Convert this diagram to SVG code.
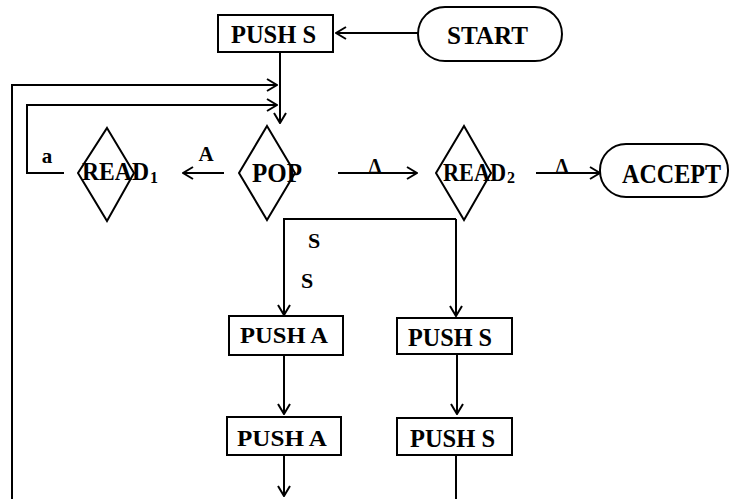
<svg xmlns="http://www.w3.org/2000/svg" width="731" height="499" viewBox="0 0 731 499">
<style>
.sh{fill:#fff;stroke:#000;stroke-width:2}
.dm{fill:none;stroke:#000;stroke-width:2}
.t{font-family:"Liberation Serif","Times New Roman",serif;font-weight:bold;fill:#000}
.c{fill:none;stroke:#000;stroke-width:2}
</style>
<defs>
<marker id="ah" viewBox="0 0 12 14" refX="11" refY="7" markerWidth="12" markerHeight="14" markerUnits="userSpaceOnUse" orient="auto">
<path d="M1,1 L11,7 L1,13" fill="none" stroke="#000" stroke-width="2"/>
</marker>
</defs>
<rect width="731" height="499" fill="#fff"/>
<g id="connectors">
<path class="c" d="M418,33 L336,33" marker-end="url(#ah)"/>
<path class="c" d="M280,52 L280,123" marker-end="url(#ah)"/>
<path class="c" d="M12,499 L12,85 L277,85" marker-end="url(#ah)"/>
<path class="c" d="M64,173 L27,173 L27,105 L277,105" marker-end="url(#ah)"/>
<path class="c" d="M224,173 L183,173" marker-end="url(#ah)"/>
<path class="c" d="M338,173 L417,173" marker-end="url(#ah)"/>
<path class="c" d="M536,173 L600,173" marker-end="url(#ah)"/>
<path class="c" d="M456,219 L284,219 L284,315" marker-end="url(#ah)"/>
<path class="c" d="M456,219 L456,316" marker-end="url(#ah)"/>
<path class="c" d="M284,355 L284,414" marker-end="url(#ah)"/>
<path class="c" d="M284,455 L284,496" marker-end="url(#ah)"/>
<path class="c" d="M457,354 L457,414" marker-end="url(#ah)"/>
<path class="c" d="M456,455 L456,499"/>
<text class="t" x="206" y="161" font-size="21" text-anchor="middle">A</text>
<text class="t" x="47" y="163" font-size="21" text-anchor="middle">a</text>
<text class="t" x="375" y="173" font-size="20" text-anchor="middle">Δ</text>
<text class="t" x="562" y="173" font-size="20" text-anchor="middle">Δ</text>
<text class="t" x="314" y="248" font-size="22" text-anchor="middle">S</text>
<text class="t" x="307" y="288" font-size="22" text-anchor="middle">S</text>
</g>
<g id="push_s_top">
<rect class="sh" x="218" y="15" width="115" height="37"/>
<text class="t" x="231" y="43" font-size="26" textLength="85" lengthAdjust="spacingAndGlyphs">PUSH S</text>
</g>
<g id="start">
<rect class="sh" x="418" y="7" width="144" height="54" rx="27" ry="27"/>
<text class="t" x="447" y="44" font-size="25" textLength="81" lengthAdjust="spacingAndGlyphs">START</text>
</g>
<g id="pop">
<polygon class="dm" points="267,126 295,173 267,220 239,173"/>
<text class="t" x="252" y="182" font-size="28" textLength="50" lengthAdjust="spacingAndGlyphs">POP</text>
</g>
<g id="read1">
<polygon class="dm" points="107,128 134,173 107,221 78,173"/>
<text class="t" x="82" y="180" font-size="25"><tspan textLength="67" lengthAdjust="spacingAndGlyphs">READ</tspan><tspan x="150" font-size="16" dy="3">1</tspan></text>
</g>
<g id="read2">
<polygon class="dm" points="464,126 491,173 464,220 436,173"/>
<text class="t" x="443" y="181" font-size="25"><tspan textLength="63" lengthAdjust="spacingAndGlyphs">READ</tspan><tspan x="507" font-size="16" dy="2">2</tspan></text>
</g>
<g id="accept">
<rect class="sh" x="600" y="144" width="128" height="53" rx="26" ry="26"/>
<text class="t" x="622" y="183" font-size="28" textLength="99" lengthAdjust="spacingAndGlyphs">ACCEPT</text>
</g>
<g id="push_a1">
<rect class="sh" x="229" y="316" width="114" height="39"/>
<text class="t" x="240" y="343" font-size="23" textLength="88" lengthAdjust="spacingAndGlyphs">PUSH A</text>
</g>
<g id="push_a2">
<rect class="sh" x="227" y="417" width="114" height="38"/>
<text class="t" x="237" y="446" font-size="23" textLength="90" lengthAdjust="spacingAndGlyphs">PUSH A</text>
</g>
<g id="push_s1">
<rect class="sh" x="397" y="318" width="115" height="36"/>
<text class="t" x="408" y="346" font-size="26" textLength="84" lengthAdjust="spacingAndGlyphs">PUSH S</text>
</g>
<g id="push_s2">
<rect class="sh" x="397" y="418" width="115" height="37"/>
<text class="t" x="410" y="447" font-size="26" textLength="85" lengthAdjust="spacingAndGlyphs">PUSH S</text>
</g>
</svg>
